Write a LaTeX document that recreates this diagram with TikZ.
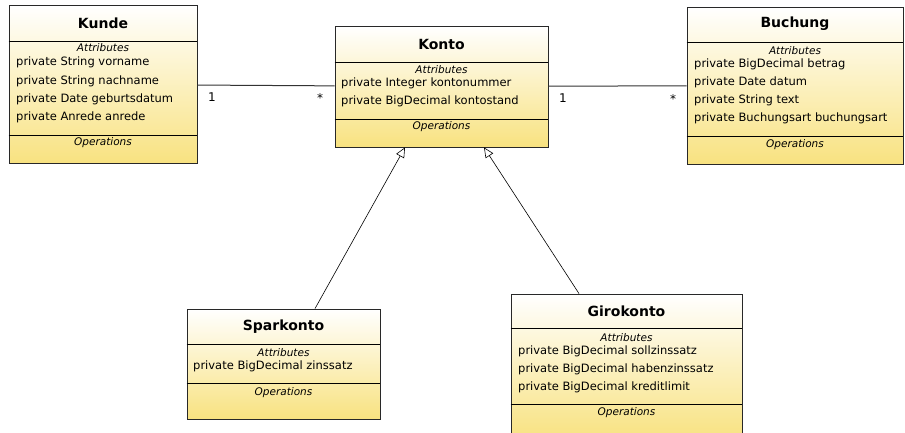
\documentclass[tikz,border=0pt]{standalone}
\usepackage{fontspec}
\setmainfont{DejaVu Sans}
\usetikzlibrary{arrows.meta,shadows}
\definecolor{umlyellow}{RGB}{248,226,128}
\definecolor{umlborder}{RGB}{40,40,40}
\begin{document}
\begin{tikzpicture}[x=1pt,y=-1pt,
  classbox/.style={rectangle, draw=umlborder, line width=0.8pt, inner sep=0pt,
    top color=white, bottom color=umlyellow,
    drop shadow={shadow xshift=1pt, shadow yshift=-1pt, opacity=0.35}},
  classname/.style={font=\fontsize{14}{16}\selectfont\bfseries, inner sep=0pt},
  section/.style={font=\fontsize{10.5}{12}\selectfont\itshape, inner sep=0pt},
  attr/.style={anchor=west, inner sep=0pt, font=\fontsize{11.5}{13}\selectfont},
  mult/.style={inner sep=0pt, font=\fontsize{12}{14}\selectfont},
  sep/.style={draw=black, line width=0.8pt},
  assoc/.style={draw=black!80, line width=1pt},
  gen/.style={draw=black, line width=0.6pt,
    -{Triangle[open, fill=white, length=10pt, width=9pt]}}
]
\useasboundingbox (0,0) rectangle (905,433);

% ---------- class boxes ----------
\node[classbox, minimum width=188pt, minimum height=158pt] (kunde) at (103,84.5) {};
\node[classbox, minimum width=213pt, minimum height=121pt] (konto) at (441.5,86.5) {};
\node[classbox, minimum width=216pt, minimum height=157pt] (buchung) at (795,85.5) {};
\node[classbox, minimum width=193pt, minimum height=110pt] (sparkonto) at (283.5,364) {};
\node[classbox, minimum width=231pt, minimum height=146pt] (girokonto) at (626.5,367) {};

% ---------- compartment separators ----------
\draw[sep] (kunde.west |- 0,41) -- (kunde.east |- 0,41);
\draw[sep] (kunde.west |- 0,135) -- (kunde.east |- 0,135);
\draw[sep] (konto.west |- 0,62) -- (konto.east |- 0,62);
\draw[sep] (konto.west |- 0,119) -- (konto.east |- 0,119);
\draw[sep] (buchung.west |- 0,42) -- (buchung.east |- 0,42);
\draw[sep] (buchung.west |- 0,136) -- (buchung.east |- 0,136);
\draw[sep] (sparkonto.west |- 0,344) -- (sparkonto.east |- 0,344);
\draw[sep] (sparkonto.west |- 0,383) -- (sparkonto.east |- 0,383);
\draw[sep] (girokonto.west |- 0,328) -- (girokonto.east |- 0,328);
\draw[sep] (girokonto.west |- 0,404) -- (girokonto.east |- 0,404);

% ---------- Kunde ----------
\node[classname] (kunde-name) at (kunde.north |- 0,23) {Kunde};
\node[section] (kunde-attr) at (kunde.north |- 0,48) {Attributes};
\node[attr] (kunde-a1) at (16,62) {private String vorname};
\node[attr] (kunde-a2) at (16,81) {private String nachname};
\node[attr] (kunde-a3) at (16,99) {private Date geburtsdatum};
\node[attr] (kunde-a4) at (16,117) {private Anrede anrede};
\node[section] (kunde-ops) at (kunde.north |- 0,143) {Operations};

% ---------- Konto ----------
\node[classname] (konto-name) at (konto.north |- 0,44) {Konto};
\node[section] (konto-attr) at (konto.north |- 0,70) {Attributes};
\node[attr] (konto-a1) at (341,83) {private Integer kontonummer};
\node[attr] (konto-a2) at (341,101) {private BigDecimal kontostand};
\node[section] (konto-ops) at (konto.north |- 0,127) {Operations};

% ---------- Buchung ----------
\node[classname] (buchung-name) at (buchung.north |- 0,24) {Buchung};
\node[section] (buchung-attr) at (buchung.north |- 0,51) {Attributes};
\node[attr] (buchung-a1) at (694,64) {private BigDecimal betrag};
\node[attr] (buchung-a2) at (694,82) {private Date datum};
\node[attr] (buchung-a3) at (694,100) {private String text};
\node[attr] (buchung-a4) at (694,118) {private Buchungsart buchungsart};
\node[section] (buchung-ops) at (buchung.north |- 0,145) {Operations};

% ---------- Sparkonto ----------
\node[classname] (sparkonto-name) at (sparkonto.north |- 0,327) {Sparkonto};
\node[section] (sparkonto-attr) at (sparkonto.north |- 0,353) {Attributes};
\node[attr] (sparkonto-a1) at (193,366) {private BigDecimal zinssatz};
\node[section] (sparkonto-ops) at (sparkonto.north |- 0,393) {Operations};

% ---------- Girokonto ----------
\node[classname] (girokonto-name) at (girokonto.north |- 0,311) {Girokonto};
\node[section] (girokonto-attr) at (girokonto.north |- 0,338) {Attributes};
\node[attr] (girokonto-a1) at (518,351) {private BigDecimal sollzinssatz};
\node[attr] (girokonto-a2) at (518,369) {private BigDecimal habenzinssatz};
\node[attr] (girokonto-a3) at (518,387) {private BigDecimal kreditlimit};
\node[section] (girokonto-ops) at (girokonto.north |- 0,413) {Operations};

% ---------- associations ----------
\draw[assoc] (kunde) -- (konto);
\draw[assoc] (konto) -- (buchung);
\node[mult] (m1) at (212,97) {1};
\node[mult] (m2) at (320,98) {*};
\node[mult] (m3) at (563,98) {1};
\node[mult] (m4) at (673,99) {*};

% ---------- generalizations ----------
\draw[gen] ([xshift=31.5pt]sparkonto.north) -- ([xshift=-36.5pt]konto.south);
\draw[gen] ([xshift=-47.5pt]girokonto.north) -- ([xshift=42.5pt]konto.south);
\end{tikzpicture}
\end{document}
